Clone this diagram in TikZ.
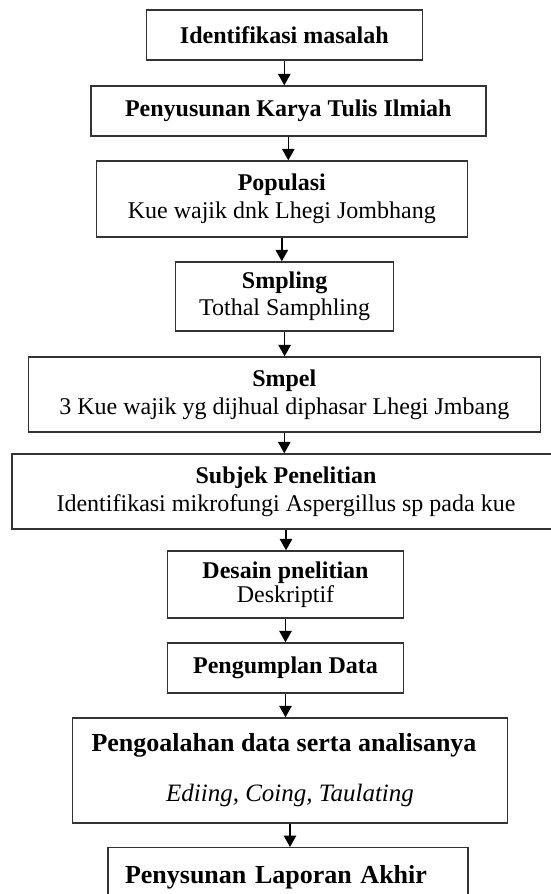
\documentclass[tikz,border=0pt]{standalone}
\usepackage{fontspec}
\setmainfont{Liberation Serif}
\usetikzlibrary{arrows.meta}
\begin{document}
\begin{tikzpicture}[x=1pt,y=-1pt,
	kotak/.style={draw=black!80,line width=1.4pt,rectangle,align=center,font=\fontsize{24}{28}\selectfont},
	panah/.style={-{Triangle[width=12.5pt,length=11.5pt]},line width=1.4pt}]
	\useasboundingbox (0,0) rectangle (551,894);
	\node[kotak,minimum width=276,minimum height=50] (b1) at (284.3,35) {\textbf{Identifikasi masalah}};
	\node[kotak,minimum width=395,minimum height=50] (b2) at (288.3,111) {\textbf{Penyusunan Karya Tulis Ilmiah}};
	\node[kotak,minimum width=371,minimum height=76] (b3) at (281.8,199) {\textbf{Populasi}\\Kue wajik dnk Lhegi Jombhang};
	\node[kotak,minimum width=218,minimum height=69] (b4) at (284.6,296.5) {\textbf{Smpling}\\[-1pt]Tothal Samphling};
	\node[kotak,minimum width=512,minimum height=75] (b5) at (284.3,394.5) {\textbf{Smpel}\\3 Kue wajik yg dijhual diphasar Lhegi Jmbang};
	\node[kotak,minimum width=548,minimum height=75] (b6) at (286,491.5) {\textbf{Subjek Penelitian}\\Identifikasi mikrofungi Aspergillus sp pada kue};
	\node[kotak,minimum width=236,minimum height=67] (b7) at (285.5,584.5) {\textbf{Desain pnelitian}\\[-4pt]Deskriptif};
	\node[kotak,minimum width=236,minimum height=50] (b8) at (285.5,668) {\textbf{Pengumplan Data}};
	\node[kotak,minimum width=435,minimum height=105,font=\fontsize{26}{30}\selectfont] (b9) at (290,770.5) {\textbf{Pengoalahan data serta analisanya}\hspace*{12pt}\\[20pt]{\fontsize{25}{30}\selectfont\textit{Ediing, Coing, Taulating}}};
	\node[kotak,anchor=north,text width=326,align=left,inner xsep=17,inner ysep=18,font=\fontsize{26}{30}\selectfont] (b10) at (288,847) {\textbf{Penysunan Laporan Akhir}};
	% alur
	\draw[panah] (b1.south) -- (b1.south |- b2.north);
	\draw[panah] (b2.south) -- (b2.south |- b3.north);
	\draw[panah] (b3.south) -- (b3.south |- b4.north);
	\draw[panah] (b4.south) -- (b4.south |- b5.north);
	\draw[panah] (b5.south) -- (b5.south |- b6.north);
	\draw[panah] (b6.south) -- (b6.south |- b7.north);
	\draw[panah] (b7.south) -- (b7.south |- b8.north);
	\draw[panah] (b8.south) -- (b8.south |- b9.north);
	\draw[panah] (b9.south) -- (b9.south |- b10.north);
\end{tikzpicture}
\end{document}
